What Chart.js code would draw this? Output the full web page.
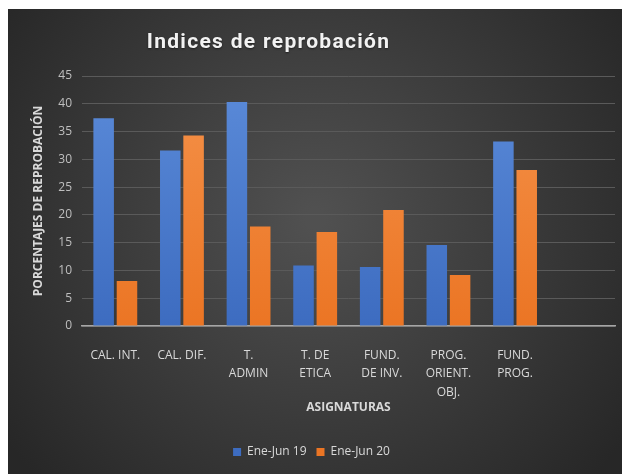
<!DOCTYPE html>
<html>
<head>
<meta charset="utf-8">
<script src="https://cdn.jsdelivr.net/npm/chart.js@4/dist/chart.umd.min.js"></script>
<style>
    body {
        margin: 0;
        background: #fff;
        width: 622px;
        height: 474px;
        overflow: hidden;
        position: relative;
    }
    .caja {
        position: absolute;
        left: 8px;
        top: 9px;
        width: 614px;
        height: 465px;
    }
    .titulo {
        position: absolute;
        left: 8px;
        top: 28px;
        width: 521px;
        text-align: center;
        margin: 0;
        color: #f2f2f2;
        font: bold 21px Roboto, sans-serif;
        letter-spacing: 1.3px;
        line-height: 26px;
        text-shadow: 0 1px 2px rgba(0, 0, 0, 0.5);
    }
</style>
</head>
<body>
<div class="caja">
    <canvas id="mine" width="614" height="465"></canvas>
</div>
<h1 class="titulo">Indices de reprobación</h1>
<script>
    // datos
    const materias = [
        ["CAL. INT."],
        ["CAL. DIF."],
        ["T.", "ADMIN"],
        ["T. DE", "ETICA"],
        ["FUND.", "DE INV."],
        ["PROG.", "ORIENT.", "OBJ."],
        ["FUND.", "PROG."],
        ""
    ];
    const ene19 = [37.4, 31.6, 40.3, 10.9, 10.6, 14.6, 33.2, null];
    const ene20 = [8.1, 34.3, 17.9, 16.9, 20.9, 9.2, 28.1, null];
    const ejeY = { min: 0, max: 45, paso: 5 };

    const fuente = '"Open Sans", sans-serif';

    function degradado(arriba, abajo) {
        return ctx => {
            const area = ctx.chart.chartArea;
            if (!area) return abajo;
            const g = ctx.chart.ctx.createLinearGradient(0, area.top, 0, area.bottom);
            g.addColorStop(0, arriba);
            g.addColorStop(1, abajo);
            return g;
        };
    }

    const fondo = {
        id: "fondo",
        beforeDraw(chart) {
            const c = chart.ctx;
            const w = chart.width, h = chart.height;
            const g = c.createRadialGradient(w * 0.5, h * 0.45, 10, w * 0.5, h * 0.45, w * 0.62);
            g.addColorStop(0, "#505050");
            g.addColorStop(1, "#272727");
            c.save();
            c.fillStyle = g;
            c.fillRect(0, 0, w, h);
            c.restore();
        }
    };

    new Chart(document.getElementById("mine").getContext("2d"), {
        type: "bar",
        data: {
            labels: materias,
            datasets: [{
                label: "Ene-Jun 19",
                data: ene19,
                backgroundColor: degradado("#5b8bd9", "#3d6cc0")
            }, {
                label: "Ene-Jun 20",
                data: ene20,
                backgroundColor: degradado("#f5924a", "#eb7524")
            }]
        },
        plugins: [fondo],
        options: {
            responsive: false,
            animation: false,
            categoryPercentage: 0.7,
            barPercentage: 0.88,
            layout: {
                padding: { top: 67, left: 0, right: 7, bottom: 6 }
            },
            plugins: {
                title: { display: false },
                tooltip: { enabled: false },
                legend: {
                    position: "bottom",
                    labels: {
                        color: "#d9d9d9",
                        boxWidth: 8,
                        boxHeight: 8,
                        padding: 10,
                        font: { family: fuente, size: 12 }
                    }
                }
            },
            scales: {
                x: {
                    grid: { display: false },
                    border: { color: "#a6a6a6", width: 1.5 },
                    ticks: {
                        color: "#d9d9d9",
                        padding: 12,
                        maxRotation: 0,
                        autoSkip: false,
                        font: { family: fuente, size: 12, lineHeight: 1.55 }
                    },
                    title: {
                        display: true,
                        text: "ASIGNATURAS",
                        color: "#d9d9d9",
                        padding: { top: 0, bottom: 21 },
                        font: { family: fuente, size: 12, weight: "bold" }
                    },
                    afterFit(s) { s.height = 110; }
                },
                y: {
                    min: ejeY.min,
                    max: ejeY.max,
                    grid: { color: "#5a5a5a", drawTicks: false },
                    border: { display: false },
                    ticks: {
                        stepSize: ejeY.paso,
                        color: "#bfbfbf",
                        padding: 10,
                        font: { family: fuente, size: 12 }
                    },
                    title: {
                        display: true,
                        text: "PORCENTAJES DE REPROBACIÓN",
                        color: "#d9d9d9",
                        padding: { top: 23, bottom: 0 },
                        font: { family: fuente, size: 12, weight: "bold" }
                    },
                    afterFit(s) { s.width = 74; }
                }
            }
        }
    });
</script>
</body>
</html>
